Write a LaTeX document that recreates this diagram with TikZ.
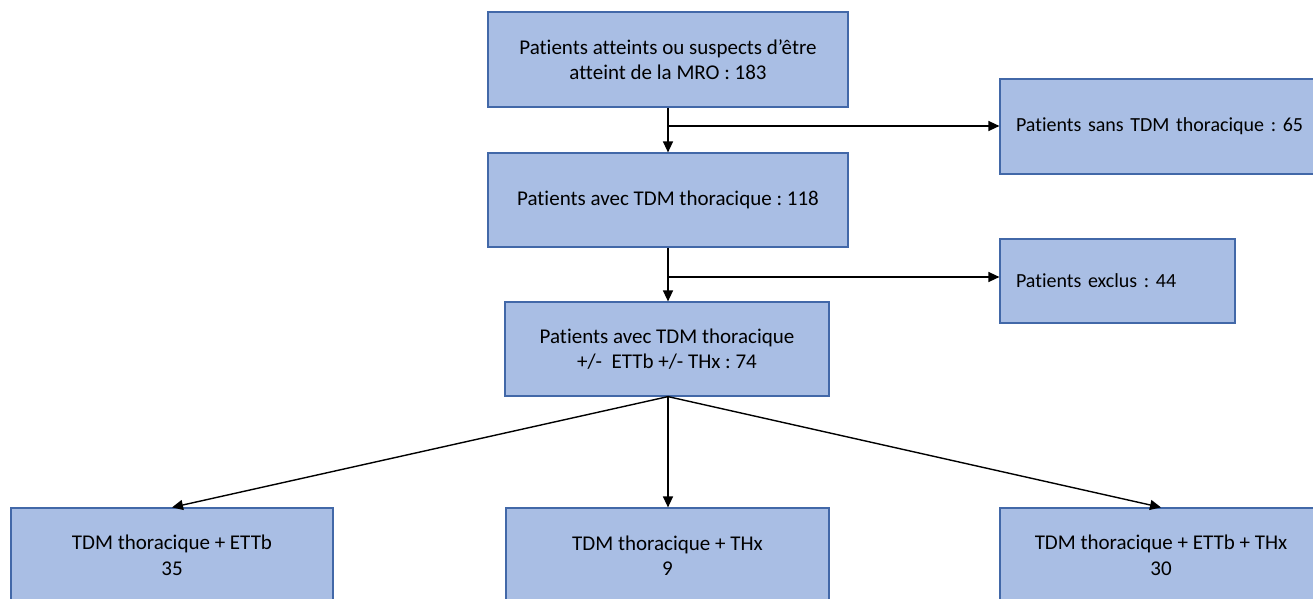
\documentclass[tikz,border=0pt]{standalone}
\usepackage{fontspec}
\setmainfont{Carlito}[Ligatures=NoCommon]
\usetikzlibrary{arrows.meta}
\definecolor{boxfill}{RGB}{169,190,228}
\definecolor{boxline}{RGB}{66,104,168}
\frenchspacing
\hfuzz=200pt
\begin{document}
\begin{tikzpicture}[x=1pt,y=-1pt,
  box/.style={rectangle, draw=boxline, fill=boxfill, line width=1.2pt, inner sep=0pt, align=center, font=\fontsize{21}{25.5}\selectfont},
  sidebox/.style={box, align=left, inner xsep=16pt, font=\fontsize{20}{25}\selectfont},
  arr/.style={line width=1.4pt, -{Triangle[length=11pt,width=10pt]}}]
\useasboundingbox (0,0) rectangle (1313,599);
\clip (0,0) rectangle (1313,599);
\node[box, minimum width=360pt, minimum height=95pt] (b1) at (668,59.5) {Patients atteints ou suspects d’être\\atteint de la MRO : 183};
\node[box, minimum width=360pt, minimum height=94pt] (b2) at (668,200) {Patients avec TDM thoracique : 118};
\node[box, minimum width=324pt, minimum height=94pt] (b3) at (667,349) {Patients avec TDM thoracique\\+/-~ ETTb +/- THx : 74};
\node[sidebox, minimum width=330pt, text width=298pt, minimum height=95pt] (s1) at (1165,126.5) {\mbox{Patients sans TDM thoracique : 65}};
\node[sidebox, minimum width=235pt, text width=203pt, minimum height=84pt] (s2) at (1117.5,281) {\mbox{Patients exclus : 44}};
\node[box, minimum width=322pt, minimum height=95pt] (L) at (172,555.5) {TDM thoracique + ETTb\\35};
\node[box, minimum width=323pt, minimum height=95pt] (M) at (667.5,555.5) {TDM thoracique + THx\\9};
\node[box, minimum width=322pt, minimum height=95pt] (R) at (1161,555.5) {TDM thoracique + ETTb + THx\\30};
\coordinate (j1) at (668,126);
\coordinate (j2) at (668,277);
\draw[arr] (b1.south -| j1) -- (b2.north -| j1);
\draw[arr] (j1) -- (j1 -| s1.west);
\draw[arr] (b2.south -| j2) -- (b3.north -| j2);
\draw[arr] (j2) -- (j2 -| s2.west);
\coordinate (top3) at (b3.south -| j2);
\draw[arr] (top3) -- (L.north);
\draw[arr] (top3) -- (M.north -| top3);
\draw[arr] (top3) -- (R.north);
\end{tikzpicture}
\end{document}
